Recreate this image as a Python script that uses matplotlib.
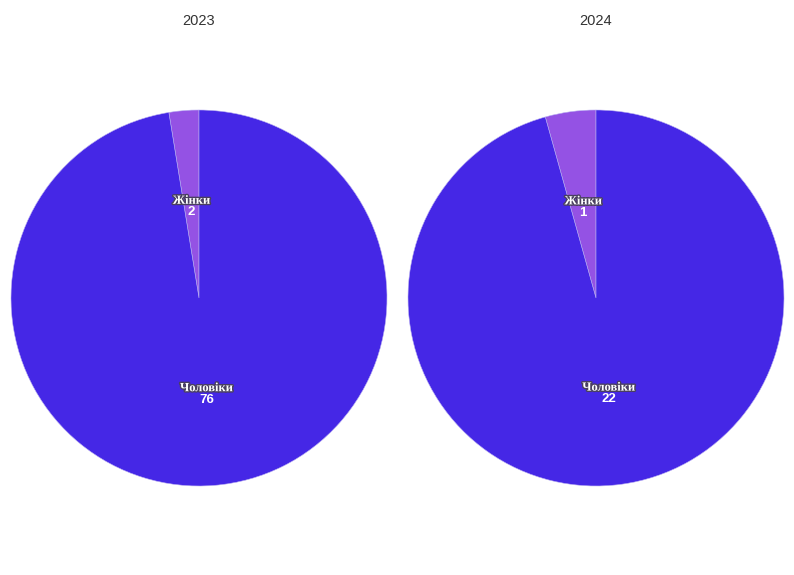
import numpy as np
import matplotlib
matplotlib.use('Agg')
import matplotlib.pyplot as plt
import matplotlib.patheffects as pe

# data
years = ['2023', '2024']
labels = ['Жінки', 'Чоловіки']
women = [2, 1]
men = [76, 22]
colors = ['#9452e4', '#4527e6']

fig = plt.figure(figsize=(7.94, 5.75), dpi=100)
axes_boxes = [[11 / 794, 89 / 575, 376 / 794, 376 / 575],
              [408 / 794, 89 / 575, 376 / 794, 376 / 575]]

outline = [pe.withStroke(linewidth=2.0, foreground='#4a4060')]

for i, year in enumerate(years):
    ax = fig.add_axes(axes_boxes[i])
    vals = [women[i], men[i]]
    wedges, _ = ax.pie(vals, colors=colors, startangle=90, counterclock=True,
                       radius=1.0, wedgeprops=dict(edgecolor='#b8aef2', linewidth=0.4))
    ax.set_xlim(-1, 1)
    ax.set_ylim(-1, 1)
    ax.set_aspect('equal')
    ax.axis('off')

    for w, name, v in zip(wedges, labels, vals):
        mid = np.deg2rad((w.theta1 + w.theta2) / 2)
        x, y = 0.5 * np.cos(mid), 0.5 * np.sin(mid)
        ax.annotate(name, (x, y), xytext=(0, 3.5), textcoords='offset pixels',
                    ha='center', va='center', fontsize=9, fontweight='bold',
                    family='Liberation Serif', color='white', path_effects=outline)
        ax.annotate(str(v), (x, y), xytext=(0, -8), textcoords='offset pixels',
                    ha='center', va='center', fontsize=9.5, fontweight='bold',
                    family='Liberation Sans', color='white')

    cx = (axes_boxes[i][0] + axes_boxes[i][2] / 2)
    fig.text(cx, 1 - 21 / 575, year, ha='center', va='center', fontsize=10.5,
             family='Liberation Sans', color='#333333')

plt.savefig('out.png', dpi=100)
